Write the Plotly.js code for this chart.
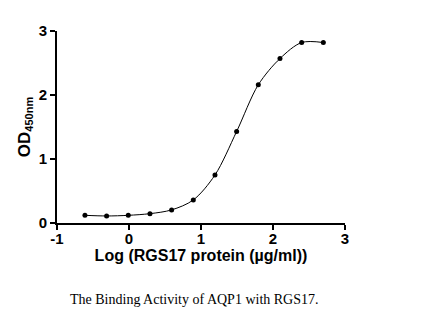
<!DOCTYPE html>
<html>
<head>
<meta charset="utf-8">
<script src="https://cdn.plot.ly/plotly-3.0.1.min.js"></script>
<style>html,body{margin:0;padding:0;background:#fff;}#chart{width:433px;height:318px;}</style>
</head>
<body>
<div id="chart"></div>
<script>
var logConc = [-0.612, -0.311, -0.010, 0.291, 0.592, 0.893, 1.194, 1.495, 1.796, 2.097, 2.398, 2.699];
var od450 = [0.12, 0.11, 0.12, 0.146, 0.205, 0.36, 0.75, 1.43, 2.16, 2.57, 2.82, 2.82];
var xTickVals = [-1, 0, 1, 2, 3];
var xTickText = ["-1", "0", "1", "2", "3"];
var yTickVals = [0, 1, 2, 3];
var yTickText = ["0", "1", "2", "3"];
var xTitle = "Log (RGS17 protein (\u00b5g/ml))";
var yTitle = "OD<sub><span style=\"font-size:11px\">450nm</span></sub>";
var caption = "The Binding Activity of AQP1 with RGS17.";

var trace = {
  x: logConc, y: od450, type: 'scatter', mode: 'lines+markers',
  line: {color: '#000', width: 1, shape: 'spline', smoothing: 0.9},
  marker: {color: '#000', size: 5},
  cliponaxis: false,
  hoverinfo: 'none'
};

var axisFont = {family: 'Liberation Sans, Arial, sans-serif', size: 15, color: '#000', weight: 'bold'};
var layout = {
  width: 433, height: 318,
  margin: {l: 57, r: 88, t: 31, b: 95, pad: 0},
  paper_bgcolor: '#fff', plot_bgcolor: '#fff',
  showlegend: false,
  xaxis: {
    range: [-1, 3], showgrid: false, zeroline: false,
    showline: true, linecolor: '#000', linewidth: 2,
    ticks: 'outside', ticklen: 5, tickwidth: 2, tickcolor: '#000',
    ticklabelstandoff: -4,
    tickvals: xTickVals, ticktext: xTickText, tickfont: axisFont,
    title: {text: xTitle, font: {family: 'Liberation Sans, Arial, sans-serif', size: 16, color: '#000', weight: 'bold'}, standoff: 4}
  },
  yaxis: {
    range: [0, 3], showgrid: false, zeroline: false,
    showline: true, linecolor: '#000', linewidth: 2,
    ticks: 'outside', ticklen: 5, tickwidth: 2, tickcolor: '#000',
    tickvals: yTickVals, ticktext: yTickText, tickfont: axisFont,
    title: {text: yTitle, font: {family: 'Liberation Sans, Arial, sans-serif', size: 17, color: '#000', weight: 'bold'}, standoff: 4}
  },
  annotations: [{
    text: caption, xref: 'paper', yref: 'paper', x: 0.478, y: -0.40,
    xanchor: 'center', yanchor: 'middle', showarrow: false,
    font: {family: 'Liberation Serif, Times New Roman, serif', size: 14, color: '#000'}
  }]
};
Plotly.newPlot('chart', [trace], layout, {staticPlot: true, displayModeBar: false});
</script>
</body>
</html>
